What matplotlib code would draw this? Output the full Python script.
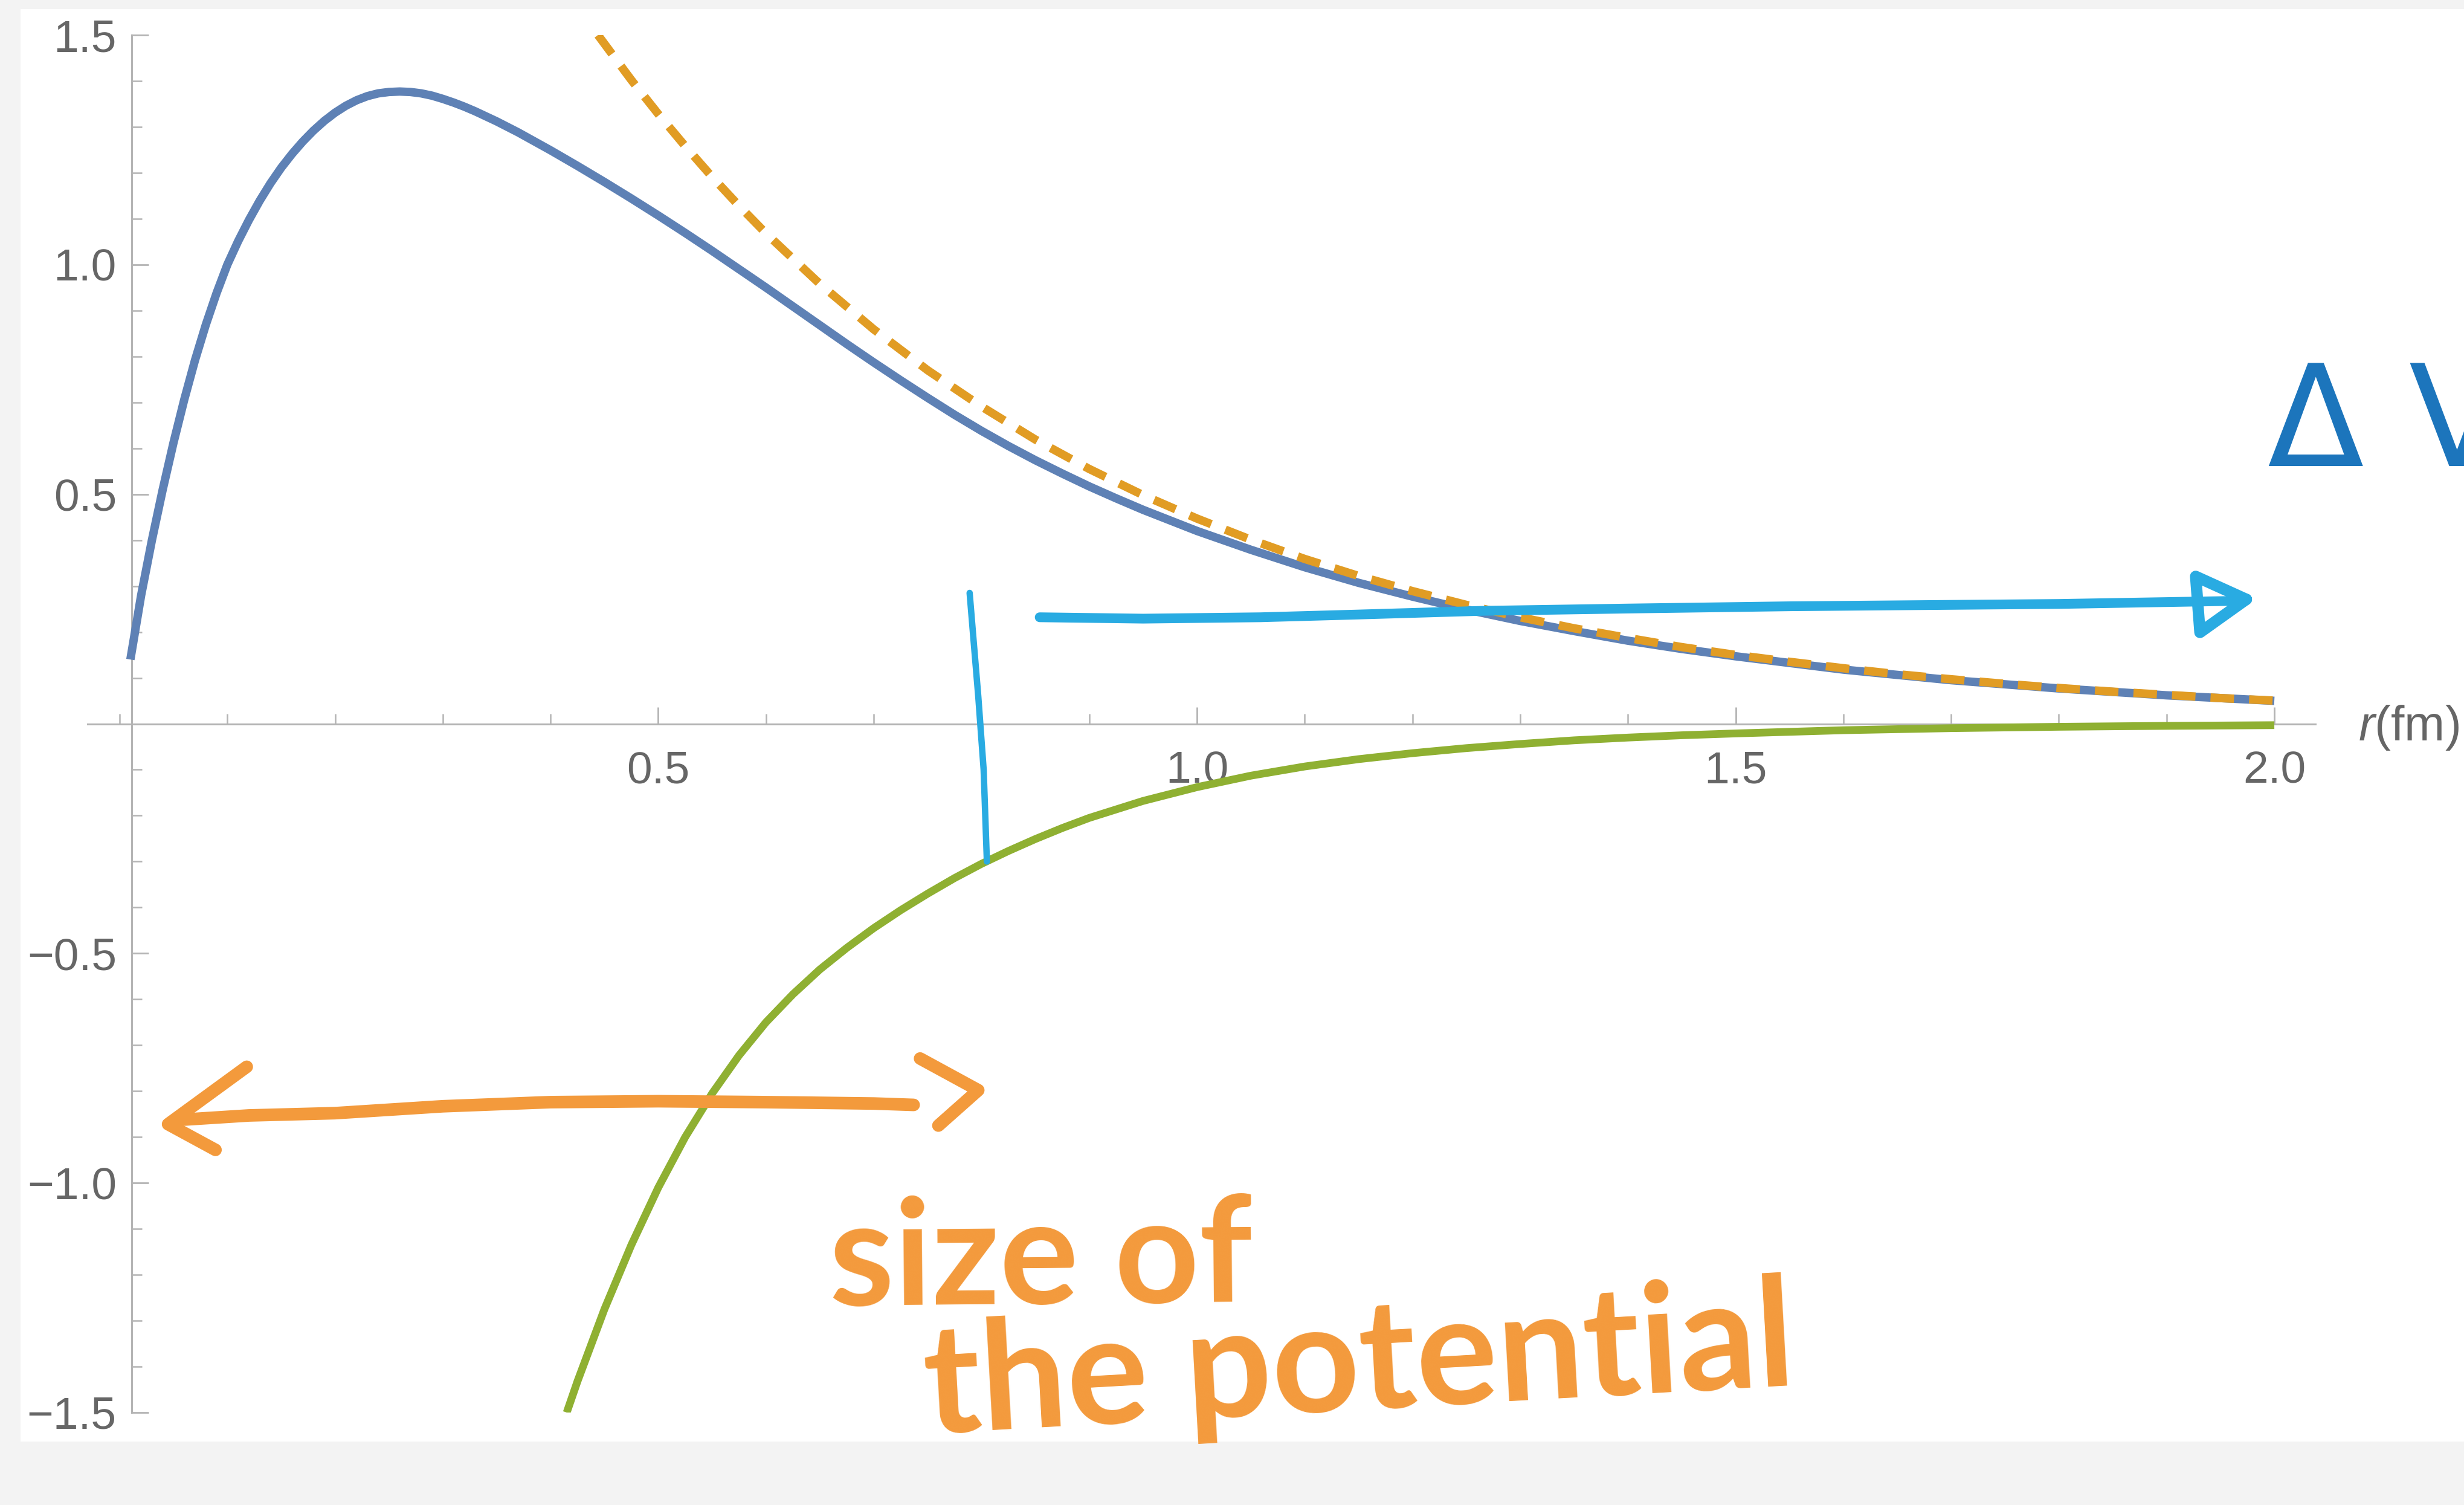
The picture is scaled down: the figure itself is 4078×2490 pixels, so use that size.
import numpy as np
import matplotlib
matplotlib.use("Agg")
import matplotlib.pyplot as plt
from matplotlib.patches import Rectangle
from matplotlib.ticker import FixedLocator, FixedFormatter, MultipleLocator

# ---- potential curves, r in fm ----
r_total = [0.01, 0.02, 0.03, 0.04, 0.05, 0.06, 0.07, 0.08, 0.09,
           0.10, 0.11, 0.12, 0.13, 0.14, 0.15, 0.16, 0.17, 0.18, 0.19,
           0.20, 0.21, 0.22, 0.23, 0.24, 0.25, 0.26, 0.27, 0.28, 0.29,
           0.30, 0.31, 0.32, 0.33, 0.34, 0.35, 0.36, 0.37, 0.38, 0.39,
           0.40, 0.425, 0.45, 0.475, 0.50, 0.525, 0.55, 0.575, 0.60, 0.625,
           0.65, 0.675, 0.70, 0.725, 0.75, 0.775, 0.80, 0.825, 0.85, 0.875,
           0.90, 0.925, 0.95, 0.975, 1.00, 1.05, 1.10, 1.15, 1.20, 1.25,
           1.30, 1.35, 1.40, 1.45, 1.50, 1.60, 1.70, 1.80, 1.90, 2.00]
v_total = [0.14, 0.28, 0.40, 0.51, 0.612, 0.706, 0.792, 0.869, 0.938,
           1.000, 1.051, 1.097, 1.139, 1.177, 1.211, 1.241, 1.268, 1.292, 1.313,
           1.331, 1.346, 1.358, 1.367, 1.373, 1.376, 1.377, 1.376, 1.373, 1.368,
           1.361, 1.353, 1.344, 1.334, 1.323, 1.312, 1.300, 1.288, 1.275, 1.262,
           1.249, 1.215, 1.180, 1.144, 1.107, 1.069, 1.030, 0.990, 0.950, 0.909,
           0.868, 0.827, 0.787, 0.748, 0.710, 0.673, 0.638, 0.605, 0.574, 0.545,
           0.517, 0.491, 0.466, 0.443, 0.420, 0.379, 0.341, 0.307, 0.277, 0.249,
           0.224, 0.202, 0.181, 0.163, 0.147, 0.118, 0.095, 0.077, 0.062, 0.050]

r_yukawa = [0.444, 0.45, 0.475, 0.50, 0.525, 0.55, 0.575, 0.60, 0.65, 0.70,
            0.75, 0.80, 0.85, 0.90, 0.95, 1.00, 1.05, 1.10, 1.15, 1.20,
            1.25, 1.30, 1.35, 1.40, 1.45, 1.50, 1.55, 1.60, 1.65, 1.70,
            1.75, 1.80, 1.85, 1.90, 1.95, 2.00]
v_yukawa = [1.50, 1.481, 1.402, 1.328, 1.258, 1.191, 1.128, 1.068, 0.958, 0.859,
            0.770, 0.691, 0.619, 0.555, 0.498, 0.447, 0.401, 0.359, 0.322, 0.289,
            0.259, 0.232, 0.208, 0.187, 0.167, 0.150, 0.135, 0.121, 0.108, 0.097,
            0.087, 0.078, 0.070, 0.063, 0.056, 0.0505]

r_attr = [0.415, 0.425, 0.45, 0.475, 0.50, 0.525, 0.55, 0.575, 0.60, 0.625,
          0.65, 0.675, 0.70, 0.725, 0.75, 0.775, 0.80, 0.825, 0.85, 0.875,
          0.90, 0.95, 1.00, 1.05, 1.10, 1.15, 1.20, 1.25, 1.30, 1.35,
          1.40, 1.45, 1.50, 1.60, 1.70, 1.80, 1.90, 2.00]
v_attr = [-1.500, -1.432, -1.275, -1.135, -1.010, -0.900, -0.805, -0.722, -0.650, -0.589,
          -0.535, -0.488, -0.445, -0.406, -0.370, -0.336, -0.305, -0.277, -0.251, -0.227,
          -0.205, -0.168, -0.138, -0.113, -0.093, -0.077, -0.064, -0.053, -0.044, -0.036,
          -0.030, -0.025, -0.021, -0.014, -0.0095, -0.0065, -0.0045, -0.003]

x_major = [0.5, 1.0, 1.5, 2.0]
x_labels = ["0.5", "1.0", "1.5", "2.0"]
y_major = [-1.5, -1.0, -0.5, 0.5, 1.0, 1.5]
y_labels = ["\u22121.5", "\u22121.0", "\u22120.5", "0.5", "1.0", "1.5"]

# ---- hand-drawn notes (data coordinates) ----
range_shaft = [(0.06, -0.862), (0.12, -0.853), (0.20, -0.848), (0.30, -0.833),
               (0.40, -0.824), (0.50, -0.822), (0.60, -0.824), (0.70, -0.827), (0.737, -0.830)]
range_head_left = [(0.118, -0.747), (0.045, -0.872), (0.089, -0.928)]
range_head_right = [(0.743, -0.729), (0.797, -0.798), (0.760, -0.875)]
bracket = [(0.789, 0.285), (0.792, 0.20), (0.797, 0.06), (0.802, -0.10), (0.805, -0.30)]
tail_shaft = [(0.854, 0.232), (0.95, 0.229), (1.059, 0.232), (1.15, 0.238), (1.265, 0.246),
              (1.40, 0.251), (1.552, 0.256), (1.70, 0.259), (1.80, 0.261), (1.972, 0.268)]
tail_head = [(1.974, 0.271), (1.927, 0.321), (1.931, 0.199), (1.974, 0.271)]

plt.rcParams['font.family'] = ['Liberation Sans', 'DejaVu Sans']
plt.rcParams['mathtext.fontset'] = 'custom'
plt.rcParams['mathtext.it'] = 'Liberation Sans:italic'
plt.rcParams['mathtext.rm'] = 'Liberation Sans'

W, H, DPI = 4078, 2490, 200
fig = plt.figure(figsize=(W / DPI, H / DPI), dpi=DPI, facecolor='#f3f3f3')
page = Rectangle((34 / W, 1 - 2385 / H), 1 - 34 / W, (2385 - 15) / H,
                 transform=fig.transFigure, facecolor='white',
                 edgecolor='none', zorder=-10)
fig.add_artist(page)

ax = fig.add_axes([145 / W, 1 - 2337 / H, (3832 - 145) / W, (2337 - 58) / H])
ax.set_zorder(1)
ax.patch.set_alpha(0)
ax.set_xlim(-0.0297, 2.0381)
ax.set_ylim(-1.5, 1.5)

axis_gray = '#b4b4b4'
label_gray = '#666666'
for side in ('top', 'right'):
    ax.spines[side].set_visible(False)
ax.spines['left'].set_position(('data', 0.0112))
ax.spines['bottom'].set_position(('data', 0.0))
for side in ('left', 'bottom'):
    ax.spines[side].set_color(axis_gray)
    ax.spines[side].set_linewidth(1.1)

ax.xaxis.set_major_locator(FixedLocator(x_major))
ax.xaxis.set_major_formatter(FixedFormatter(x_labels))
ax.xaxis.set_minor_locator(MultipleLocator(0.1))
ax.yaxis.set_major_locator(FixedLocator(y_major))
ax.yaxis.set_major_formatter(FixedFormatter(y_labels))
ax.yaxis.set_minor_locator(MultipleLocator(0.1))

ax.tick_params(axis='both', which='both', direction='in', color=axis_gray,
               labelcolor=label_gray, labelsize=27)
ax.tick_params(axis='both', which='major', length=10, width=1.0)
ax.tick_params(axis='both', which='minor', length=6, width=0.9)
ax.tick_params(axis='x', which='major', pad=16)
ax.tick_params(axis='y', which='major', pad=9)

# curves
ax.plot(r_total, v_total, color='#5E81B5', lw=5.0, solid_capstyle='butt',
        solid_joinstyle='round', zorder=3)
ax.plot(r_yukawa, v_yukawa, color='#E19C24', lw=5.0, linestyle=(0, (2.8, 1.8)),
        dash_capstyle='butt', zorder=3.2)
ax.plot(r_attr, v_attr, color='#8FB032', lw=4.6, solid_capstyle='butt',
        solid_joinstyle='round', zorder=3.1)

ax.text(2.078, -0.008, '$r$(fm)', color=label_gray, fontsize=29,
        ha='left', va='center', clip_on=False)

# notes
note_orange = '#F39A3C'
note_cyan = '#29ABE2'


def stroke(pts, color, lw):
    xs, ys = zip(*pts)
    ax.plot(xs, ys, color=color, lw=lw, solid_capstyle='round',
            solid_joinstyle='round', zorder=5, clip_on=False)


stroke(range_shaft, note_orange, 7.5)
stroke(range_head_left, note_orange, 7.5)
stroke(range_head_right, note_orange, 7.5)
stroke(bracket, note_cyan, 3.8)
stroke(tail_shaft, note_cyan, 5.8)
stroke(tail_head, note_cyan, 6.8)

ax.text(0.659, -1.267, 'size of', color=note_orange, fontsize=88,
        fontfamily=['Lato', 'DejaVu Sans'], fontweight='bold',
        ha='left', va='baseline', rotation=0.5, rotation_mode='anchor',
        clip_on=False, zorder=5)
ax.text(0.749, -1.546, 'the potential', color=note_orange, fontsize=91,
        fontfamily=['Lato', 'DejaVu Sans'], fontweight='bold',
        ha='left', va='baseline', rotation=3.2, rotation_mode='anchor',
        clip_on=False, zorder=5)
ax.text(1.994, 0.562, '\u0394 V', color='#1C75BC', fontsize=84,
        fontfamily=['DejaVu Sans'], fontweight='normal',
        ha='left', va='baseline', clip_on=False, zorder=5)

fig.savefig('out.png', dpi=DPI, facecolor=fig.get_facecolor())
